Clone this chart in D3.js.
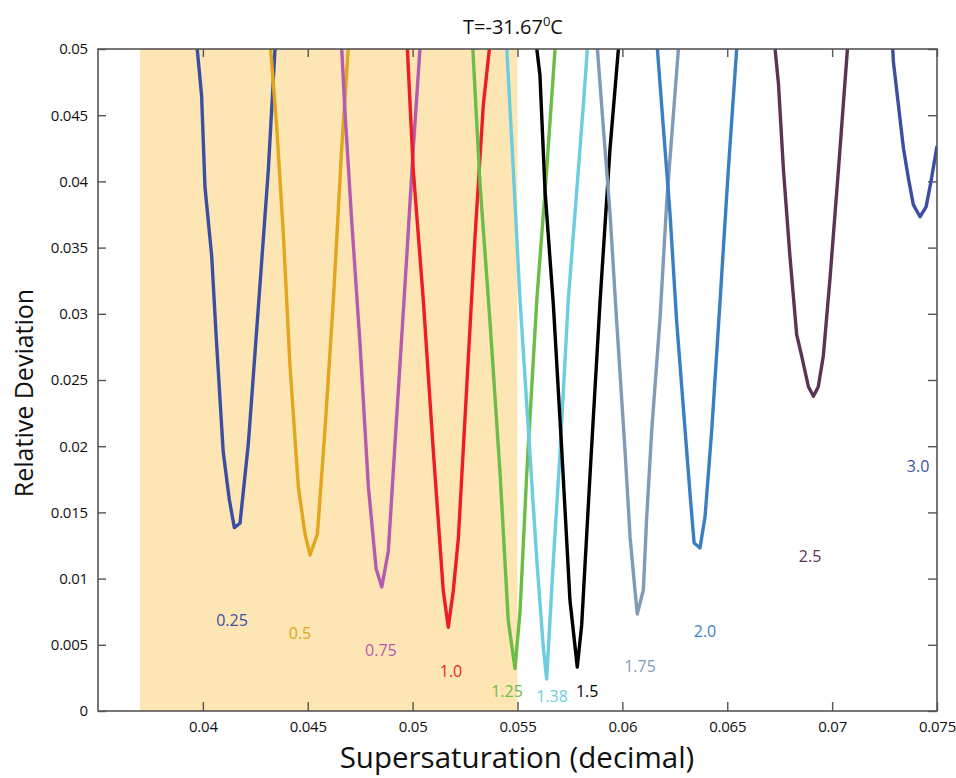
<!DOCTYPE html>
<html lang="en">
<head>
  <meta charset="UTF-8">
  <title>Relative Deviation vs Supersaturation</title>
  <script src="https://d3js.org/d3.v7.min.js"></script>
  <style>
    body {
      margin: 0;
      padding: 0;
      background: #fff;
      font-family: "Open Sans", Arial, sans-serif;
    }
    text {
      font-family: "Open Sans", Arial, sans-serif;
    }
    .axis text {
      font-size: 15px;
      letter-spacing: -0.2px;
      fill: #111;
    }
    .axis line {
      stroke: #555;
      stroke-width: 1.4;
    }
    .axis path {
      display: none;
    }
  </style>
</head>
<body>
  <div id="chart"></div>

  <script>
    // curve labels (size parameter) and colours
    const names = ["0.25", "0.5", "0.75", "1.0", "1.25", "1.38", "1.5", "1.75", "2.0", "2.5", "3.0"];
    const colors = ["#3a4fa3", "#e2a51c", "#b45bb0", "#ee1c25", "#6cbd45", "#6ccde0",
                    "#000000", "#7f9bb8", "#3a7fc3", "#5e3253", "#3a4fa3"];

    // [supersaturation, relative deviation]
    const s025 = [[0.03973, 0.0500], [0.03994, 0.04645], [0.04010, 0.03958], [0.04042, 0.03437], [0.04063, 0.0284],
                  [0.04097, 0.01956], [0.04126, 0.01597], [0.04150, 0.01385], [0.04177, 0.01418], [0.04217, 0.02024],
                  [0.04264, 0.03039], [0.04312, 0.04086], [0.04344, 0.0500]];
    const s05 = [[0.04323, 0.0500], [0.04352, 0.04413], [0.04384, 0.03595], [0.04415, 0.02613], [0.04455, 0.01696],
                 [0.04487, 0.01337], [0.04511, 0.01178], [0.04546, 0.01337], [0.04582, 0.02122], [0.04622, 0.03104],
                 [0.04662, 0.04252], [0.04693, 0.0500]];
    const s075 = [[0.04662, 0.0500], [0.04678, 0.04512], [0.04710, 0.03693], [0.04749, 0.02777], [0.04789, 0.01696],
                  [0.04826, 0.01074], [0.04853, 0.00937], [0.04884, 0.01205], [0.04924, 0.02221], [0.04972, 0.03431],
                  [0.05003, 0.04248], [0.05035, 0.0500]];
    const s10 = [[0.04975, 0.0500], [0.05003, 0.04086], [0.05051, 0.03104], [0.05099, 0.01956], [0.05146, 0.0091],
                 [0.05170, 0.00632], [0.05194, 0.0091], [0.05218, 0.01304], [0.05258, 0.0245], [0.05298, 0.03595],
                 [0.05337, 0.04577], [0.05366, 0.0500]];
    const s125 = [[0.05287, 0.0500], [0.05321, 0.03988], [0.05369, 0.02938], [0.05417, 0.01792], [0.05456, 0.00681],
                  [0.05488, 0.00321], [0.05512, 0.00748], [0.05544, 0.01792], [0.05592, 0.03104], [0.05639, 0.04086],
                  [0.05679, 0.0500]];
    const s138 = [[0.05449, 0.0500], [0.05480, 0.04086], [0.05512, 0.03104], [0.05552, 0.02122], [0.05592, 0.0114],
                  [0.05623, 0.00483], [0.05639, 0.00242], [0.05671, 0.0114], [0.05703, 0.01956], [0.05742, 0.03104],
                  [0.05782, 0.0392], [0.05814, 0.04577], [0.05833, 0.0500]];
    const s15 = [[0.05592, 0.0500], [0.05607, 0.04804], [0.05631, 0.03935], [0.05671, 0.03067], [0.05711, 0.01971],
                 [0.05750, 0.00838], [0.05785, 0.00332], [0.05806, 0.0065], [0.05846, 0.0179], [0.05894, 0.03104],
                 [0.05941, 0.04245], [0.05981, 0.0500]];
    const s175 = [[0.05881, 0.0500], [0.05909, 0.04411], [0.05941, 0.03761], [0.05973, 0.02938], [0.06013, 0.01956],
                  [0.06037, 0.01307], [0.06060, 0.00914], [0.06071, 0.00733], [0.06100, 0.00914], [0.06116, 0.01465],
                  [0.06140, 0.02122], [0.06180, 0.02976], [0.06212, 0.0386], [0.06267, 0.0500]];
    const s20 = [[0.06167, 0.0500], [0.06195, 0.04413], [0.06227, 0.03761], [0.06259, 0.02938], [0.06299, 0.02122],
                 [0.06323, 0.01631], [0.06342, 0.01269], [0.06370, 0.01231], [0.06394, 0.01465], [0.06426, 0.02122],
                 [0.06466, 0.03104], [0.06505, 0.04086], [0.06545, 0.0500]];
    const s25 = [[0.06728, 0.0500], [0.06744, 0.04741], [0.06768, 0.04086], [0.06799, 0.03431], [0.06831, 0.02842],
                 [0.06855, 0.02681], [0.06887, 0.02449], [0.06911, 0.02377], [0.06934, 0.02449], [0.06958, 0.02681],
                 [0.06990, 0.0327], [0.07030, 0.04086], [0.07073, 0.0500]];
    const s30 = [[0.07289, 0.0500], [0.07292, 0.04905], [0.07316, 0.04577], [0.07340, 0.0425], [0.07364, 0.04021],
                 [0.07387, 0.03825], [0.07419, 0.03733], [0.07448, 0.03808], [0.07470, 0.03988], [0.07500, 0.04267]];
    const series = [s025, s05, s075, s10, s125, s138, s15, s175, s20, s25, s30];

    // where each curve label sits (data units, text centre)
    const labelX = [0.04139, 0.04463, 0.04849, 0.05183, 0.05450, 0.05665, 0.05832, 0.06084, 0.06394, 0.06895, 0.07410];
    const labelY = [0.00687, 0.00589, 0.00461, 0.00302, 0.00151, 0.00113, 0.00151, 0.0034, 0.00604, 0.01171, 0.0185];

    const shadeRange = [0.037, 0.055];
    const xTicks = [0.04, 0.045, 0.05, 0.055, 0.06, 0.065, 0.07, 0.075];
    const yTicks = [0, 0.005, 0.01, 0.015, 0.02, 0.025, 0.03, 0.035, 0.04, 0.045, 0.05];

    const width = 956;
    const height = 778;
    const margin = { top: 49, right: 19, bottom: 67, left: 98 };

    const svg = d3.select("#chart")
                  .append("svg")
                  .attr("width", width)
                  .attr("height", height);

    const x = d3.scaleLinear()
                .domain([0.035, 0.075])
                .range([margin.left, width - margin.right]);

    const y = d3.scaleLinear()
                .domain([0, 0.05])
                .range([height - margin.bottom, margin.top]);

    svg.append("defs").append("clipPath")
       .attr("id", "plot-clip")
       .append("rect")
       .attr("x", x(0.035))
       .attr("y", y(0.05))
       .attr("width", x(0.075) - x(0.035))
       .attr("height", y(0) - y(0.05));

    // shaded band
    svg.append("rect")
       .attr("x", x(shadeRange[0]))
       .attr("y", y(0.05))
       .attr("width", x(shadeRange[1]) - x(shadeRange[0]))
       .attr("height", y(0) - y(0.05))
       .attr("fill", "#fde6b4");

    const fmt = d => String(+d.toFixed(3));

    // axes, ticks pointing inward on all four sides
    svg.append("g")
       .attr("class", "axis")
       .attr("transform", `translate(0,${y(0)})`)
       .call(d3.axisBottom(x).tickValues(xTicks).tickSizeInner(-9).tickSizeOuter(0).tickPadding(10).tickFormat(fmt));

    svg.append("g")
       .attr("class", "axis")
       .attr("transform", `translate(0,${y(0.05)})`)
       .call(d3.axisTop(x).tickValues(xTicks).tickSizeInner(-8).tickSizeOuter(0).tickFormat(""));

    svg.append("g")
       .attr("class", "axis")
       .attr("transform", `translate(${x(0.035)},0)`)
       .call(d3.axisLeft(y).tickValues(yTicks).tickSizeInner(-8).tickSizeOuter(0).tickPadding(10).tickFormat(fmt));

    svg.append("g")
       .attr("class", "axis")
       .attr("transform", `translate(${x(0.075)},0)`)
       .call(d3.axisRight(y).tickValues(yTicks).tickSizeInner(-9).tickSizeOuter(0).tickFormat(""));

    // curves
    const line = d3.line()
                   .x(d => x(d[0]))
                   .y(d => y(d[1]));

    svg.append("g")
       .attr("clip-path", "url(#plot-clip)")
       .selectAll("path")
       .data(series)
       .enter()
       .append("path")
       .attr("d", line)
       .attr("fill", "none")
       .attr("stroke", (d, i) => colors[i])
       .attr("stroke-width", 3.4)
       .attr("stroke-linejoin", "round");

    // frame
    svg.append("rect")
       .attr("x", x(0.035))
       .attr("y", y(0.05))
       .attr("width", x(0.075) - x(0.035))
       .attr("height", y(0) - y(0.05))
       .attr("fill", "none")
       .attr("stroke", "#555")
       .attr("stroke-width", 1.6);

    svg.selectAll(".curve-label")
       .data(names)
       .enter()
       .append("text")
       .attr("class", "curve-label")
       .attr("x", (d, i) => x(labelX[i]))
       .attr("y", (d, i) => y(labelY[i]))
       .attr("dy", "0.36em")
       .attr("text-anchor", "middle")
       .attr("font-size", 16)
       .attr("fill", (d, i) => colors[i])
       .text(d => d);

    // title with superscript degree
    const title = svg.append("text")
                     .attr("x", 513)
                     .attr("y", 34)
                     .attr("text-anchor", "middle")
                     .attr("font-size", 20)
                     .attr("fill", "#111");
    title.append("tspan").text("T=-31.67");
    title.append("tspan").attr("font-size", 13).attr("dy", -8).text("0");
    title.append("tspan").attr("dy", 8).text("C");

    svg.append("text")
       .attr("x", 517)
       .attr("y", 768)
       .attr("text-anchor", "middle")
       .attr("font-size", 29.5)
       .attr("fill", "#111")
       .text("Supersaturation (decimal)");

    svg.append("text")
       .attr("transform", "translate(33,393) rotate(-90)")
       .attr("text-anchor", "middle")
       .attr("font-size", 25)
       .attr("fill", "#111")
       .text("Relative Deviation");
  </script>
</body>
</html>
